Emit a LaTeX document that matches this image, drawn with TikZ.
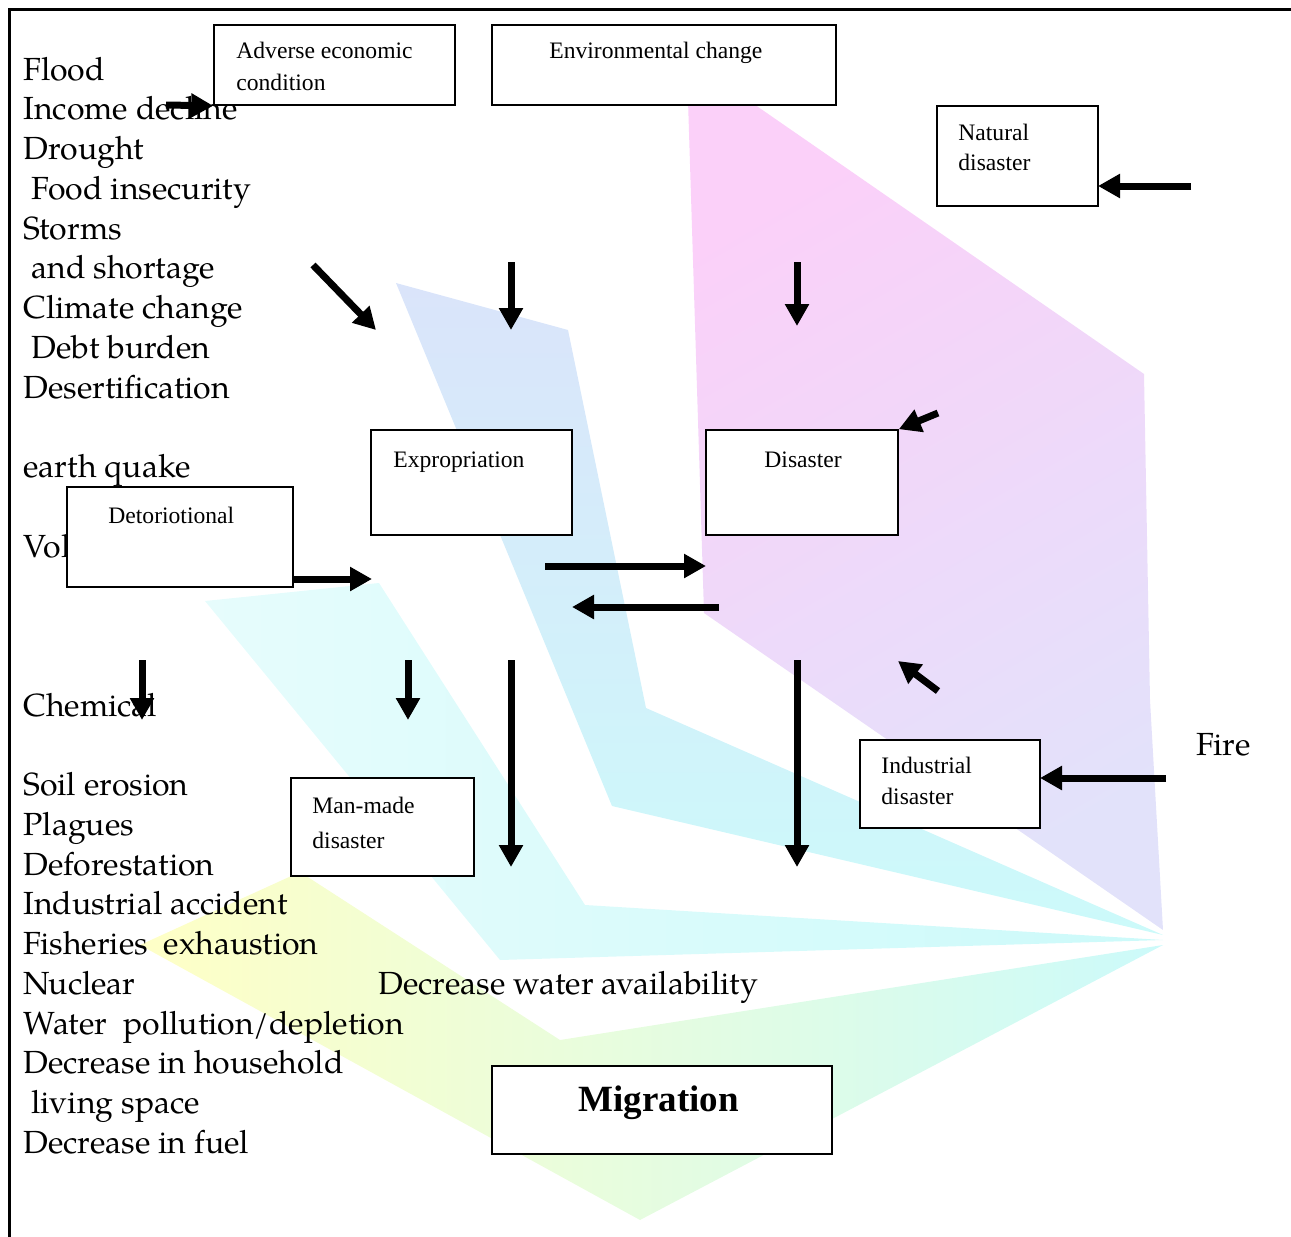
\documentclass[tikz,border=0pt]{standalone}
\usepackage{fontspec}
\setmainfont{TeX Gyre Pagella}
\newfontfamily\tnr{Liberation Serif}
\usetikzlibrary{arrows.meta}
\definecolor{pinkC}{RGB}{251,208,249}
\definecolor{lavC}{RGB}{226,226,250}
\definecolor{blueC}{RGB}{218,228,250}
\definecolor{cyanC}{RGB}{204,250,250}
\definecolor{cyanL}{RGB}{230,252,252}
\definecolor{yelC}{RGB}{255,255,198}
\tikzset{
  box/.style={draw, line width=0.8pt, fill=white, inner sep=0pt, rectangle},
  listtxt/.style={anchor=base west, inner sep=0pt, font=\fontsize{16}{19}\selectfont},
  boxtxt/.style={anchor=base west, inner sep=0pt, font=\tnr\fontsize{11.8}{14}\selectfont},
  bigarrow/.style={line width=3.5pt, -{Triangle[length=11pt,width=11.5pt]}},
}
\begin{document}
\begin{tikzpicture}[x=0.5pt,y=-0.5pt]
\useasboundingbox (0,0) rectangle (1291,1237);
% background watermark fan
\shade[left color=yelC, right color=cyanC] (140,945) -- (300,872) -- (560,1040) -- (1163,945) -- (640,1220) -- cycle;
\shade[left color=cyanL, right color=cyanC] (205,601) -- (379,583) -- (585,905) -- (1163,940) -- (500,960) -- cycle;
\shade[top color=blueC, bottom color=cyanC] (396,283) -- (568,330) -- (646,708) -- (1163,935) -- (612,806) -- cycle;
\shade[top color=pinkC, bottom color=lavC, shading angle=30] (688,100) -- (748,100) -- (1144,374) -- (1150,700) -- (1163,930) -- (704,613) -- cycle;
% frame
\draw[line width=1.35pt] (9.5,1237) -- (9.5,9.7) -- (1291,9.7);
% left list
\node[listtxt] (l0) at (23,80) {Flood};
\node[listtxt] (l1) at (23,119.75) {Income decline};
\node[listtxt] (l2) at (23,159.5) {Drought};
\node[listtxt] (l3) at (31,199.25) {Food insecurity};
\node[listtxt] (l4) at (23,239) {Storms};
\node[listtxt] (l5) at (31,278.75) {and shortage};
\node[listtxt] (l6) at (23,318.5) {Climate change};
\node[listtxt] (l7) at (31,358.25) {Debt burden};
\node[listtxt] (l8) at (23,398) {Desertification};
\node[listtxt] (l10) at (23,477.5) {earth quake};
\node[listtxt] (l12) at (23,557) {Volcano};
\node[listtxt] (l16) at (23,716) {Chemical};
\node[listtxt] (l17) at (1196,755.75) {Fire};
\node[listtxt] (l18) at (23,795.5) {Soil erosion};
\node[listtxt] (l19) at (23,835.25) {Plagues};
\node[listtxt] (l20) at (23,875) {Deforestation};
\node[listtxt] (l21) at (23,914.75) {Industrial accident};
\node[listtxt] (l22) at (23,954.5) {Fisheries\ \ exhaustion};
\node[listtxt] (l23) at (23,994.25) {Nuclear};
\node[listtxt] (water) at (378,994.25) {Decrease water availability};
\node[listtxt] (l24) at (23,1034) {Water\ \ pollution/depletion};
\node[listtxt] (l25) at (23,1073.75) {Decrease in household};
\node[listtxt] (l26) at (31,1113.5) {living space};
\node[listtxt] (l27) at (23,1153.25) {Decrease in fuel};
% boxes
\node[box, minimum width=120.5pt, minimum height=40pt] (adv) at (334.5,65) {};
\node[box, minimum width=172pt, minimum height=40pt] (env) at (664,65) {};
\node[box, minimum width=80.5pt, minimum height=50pt] (nat) at (1017.5,156) {};
\node[box, minimum width=100.5pt, minimum height=52.5pt] (exp) at (471.5,482.5) {};
\node[box, minimum width=96pt, minimum height=52.5pt] (dis) at (802,482.5) {};
\node[box, minimum width=113pt, minimum height=50pt] (det) at (180,537) {};
\node[box, minimum width=91.5pt, minimum height=49pt] (man) at (382.5,827) {};
\node[box, minimum width=90pt, minimum height=44pt] (ind) at (950,784) {};
\node[box, minimum width=170pt, minimum height=44pt] (mig) at (662,1110) {};
% box texts
\node[boxtxt] (advT1) at (236,58) {Adverse economic};
\node[boxtxt] (advT2) at (236,90) {condition};
\node[boxtxt] (envT) at (549,58) {Environmental change};
\node[boxtxt] (natT1) at (958,140) {Natural};
\node[boxtxt] (natT2) at (958,170) {disaster};
\node[boxtxt] (expT) at (393,467) {Expropriation};
\node[boxtxt] (disT) at (764,467) {Disaster};
\node[boxtxt] (detT) at (108,523) {Detoriotional};
\node[boxtxt] (manT1) at (312,813) {Man-made};
\node[boxtxt] (manT2) at (312,848) {disaster};
\node[boxtxt] (indT1) at (881,773) {Industrial};
\node[boxtxt] (indT2) at (881,804.5) {disaster};
\node[anchor=base west, inner sep=0pt, font=\tnr\bfseries\fontsize{18.5}{22}\selectfont] (migT) at (578,1111) {Migration};
% arrow end points
\coordinate (a1s) at (166,105);
\coordinate (a2s) at (1191,186);  \coordinate (a2e) at (1098,186);
\coordinate (a3s) at (313,265);   \coordinate (a3e) at (376,330);
\coordinate (a4s) at (511,262);   \coordinate (a4e) at (511,330);
\coordinate (a5s) at (797,262);   \coordinate (a5e) at (797,326);
\coordinate (a6s) at (938,413);
\coordinate (a7s) at (294,579);   \coordinate (a7e) at (372,579);
\coordinate (a8s) at (545,566);   \coordinate (a8e) at (706,566);
\coordinate (a9s) at (719,607);   \coordinate (a9e) at (572,607);
\coordinate (a10s) at (938,691);  \coordinate (a10e) at (898,661);
\coordinate (a11s) at (142,660);  \coordinate (a11e) at (142,720);
\coordinate (a12s) at (408,660);  \coordinate (a12e) at (408,720);
\coordinate (a13s) at (511,660);  \coordinate (a13e) at (511,867);
\coordinate (a14s) at (797,660);  \coordinate (a14e) at (797,867);
\coordinate (a15s) at (1166,778); \coordinate (a15e) at (1040,778);
% arrows
\draw[bigarrow] (a1s) -- (adv.south west);
\draw[bigarrow] (a2s) -- (a2e);
\draw[bigarrow] (a3s) -- (a3e);
\draw[bigarrow] (a4s) -- (a4e);
\draw[bigarrow] (a5s) -- (a5e);
\draw[bigarrow] (a6s) -- (dis.north east);
\draw[bigarrow] (a7s) -- (a7e);
\draw[bigarrow] (a8s) -- (a8e);
\draw[bigarrow] (a9s) -- (a9e);
\draw[bigarrow] (a10s) -- (a10e);
\draw[bigarrow] (a11s) -- (a11e);
\draw[bigarrow] (a12s) -- (a12e);
\draw[bigarrow] (a13s) -- (a13e);
\draw[bigarrow] (a14s) -- (a14e);
\draw[bigarrow] (a15s) -- (a15e);
\end{tikzpicture}
\end{document}
